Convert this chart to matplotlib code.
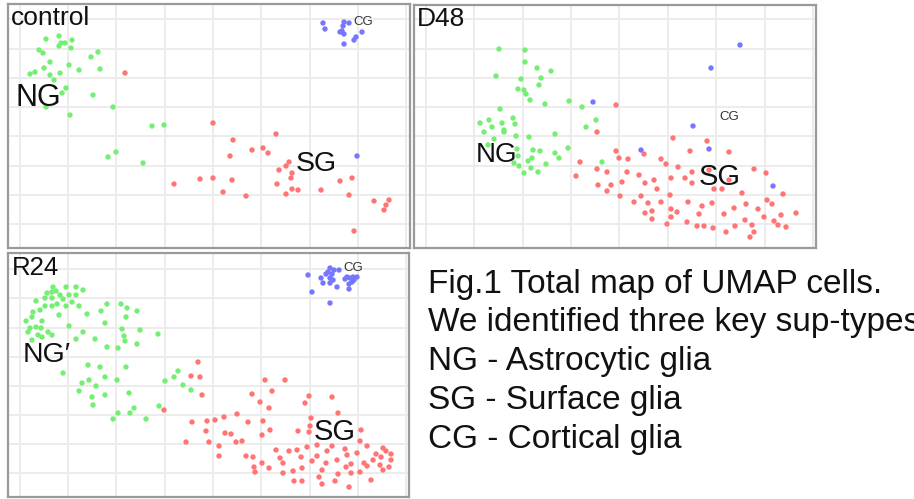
import numpy as np
import matplotlib
matplotlib.use("Agg")
import matplotlib.pyplot as plt

plt.rcParams["font.family"] = ["Liberation Sans", "DejaVu Sans"]

# UMAP embeddings per condition (screen-style units, y grows downwards)
CONTROL_NG = [(46, 39), (59, 36), (72, 40), (61, 43), (65, 43), (59, 46), (39, 50), (43, 53),
              (71, 48), (98, 52), (91, 57), (50, 62), (69, 65), (44, 68), (79, 70), (100, 69),
              (35, 72), (30, 74), (60, 73), (50, 75), (54, 80), (66, 88), (62, 93), (93, 95),
              (46, 107), (113, 107), (70, 115), (152, 126), (164, 125), (108, 157), (116, 152),
              (143, 163)]
CONTROL_SG = [(125, 73), (213, 123), (174, 184), (200, 179), (213, 178), (276, 134), (233, 140),
              (252, 150), (263, 148), (268, 153), (230, 156), (289, 162), (286, 166), (279, 170),
              (292, 173), (232, 180), (291, 178), (277, 184), (340, 181), (352, 178), (223, 192),
              (246, 196), (292, 189), (298, 190), (286, 194), (321, 190), (349, 195), (374, 201),
              (389, 200), (386, 205), (384, 210), (354, 231)]
CONTROL_CG = [(323, 23), (325, 29), (344, 22), (349, 23), (343, 26), (340, 32), (342, 31),
              (344, 34), (362, 32), (356, 37), (354, 40), (344, 44), (357, 156)]

D48_NG = [(499, 49), (525, 50), (525, 62), (537, 68), (551, 71), (496, 76), (521, 79), (541, 78),
          (539, 85), (518, 89), (524, 90), (526, 94), (530, 100), (545, 104), (569, 101),
          (582, 107), (500, 109), (596, 120), (586, 127), (480, 123), (489, 120), (492, 127),
          (502, 123), (513, 118), (515, 124), (504, 130), (484, 132), (504, 132), (516, 136),
          (529, 137), (555, 134), (494, 139), (488, 145), (517, 149), (533, 150), (540, 151),
          (555, 153), (568, 148), (559, 158), (518, 156), (532, 158), (528, 161), (514, 163),
          (519, 166), (546, 164), (531, 168), (524, 173), (538, 172), (602, 162)]
D48_SG = [(616, 105), (597, 132), (616, 151), (619, 158), (628, 159), (580, 162), (597, 169),
          (607, 172), (627, 172), (576, 176), (639, 175), (644, 154), (598, 185), (611, 185),
          (607, 191), (622, 182), (645, 183), (620, 196), (641, 196), (634, 202), (648, 203),
          (645, 213), (652, 219), (673, 138), (707, 141), (690, 151), (729, 152), (661, 159),
          (666, 164), (678, 167), (692, 172), (654, 180), (671, 178), (685, 178), (692, 183),
          (657, 189), (709, 170), (729, 180), (714, 189), (722, 189), (754, 169), (766, 173),
          (742, 193), (670, 195), (783, 194), (767, 200), (772, 204), (661, 202), (688, 202),
          (712, 203), (702, 206), (746, 204), (734, 208), (758, 209), (652, 211), (671, 209),
          (677, 212), (699, 214), (724, 214), (796, 213), (781, 215), (764, 217), (671, 217),
          (745, 220), (774, 221), (687, 222), (667, 224), (697, 226), (704, 226), (713, 228),
          (735, 226), (752, 225), (778, 225), (786, 227), (726, 232), (754, 232), (750, 237)]
D48_CG = [(593, 102), (641, 150), (740, 45), (711, 68), (693, 126), (709, 149), (773, 186)]

R24_NG = [(53, 287), (66, 287), (76, 287), (83, 290), (47, 293), (52, 292), (56, 291), (60, 295),
          (69, 295), (76, 295), (45, 298), (52, 298), (63, 299), (36, 301), (57, 304), (72, 302),
          (45, 306), (52, 306), (66, 306), (79, 306), (40, 310), (107, 304), (121, 304),
          (127, 308), (101, 311), (137, 311), (33, 312), (59, 315), (87, 314), (32, 317),
          (126, 317), (26, 321), (42, 321), (105, 323), (30, 328), (36, 327), (41, 328),
          (69, 326), (122, 329), (140, 330), (28, 332), (48, 332), (83, 332), (38, 335),
          (42, 337), (52, 335), (124, 336), (158, 334), (76, 339), (95, 339), (125, 341),
          (137, 344), (107, 347), (118, 348), (32, 340), (88, 365), (100, 367), (126, 367),
          (63, 373), (82, 383), (89, 380), (105, 377), (117, 380), (79, 391), (96, 386),
          (92, 397), (105, 395), (129, 393), (93, 405), (134, 408), (130, 413), (118, 413),
          (113, 419), (146, 419), (159, 406), (165, 381), (174, 377), (178, 371), (183, 385),
          (191, 390)]
R24_SG = [(198, 362), (191, 376), (200, 377), (202, 395), (164, 410), (192, 422), (207, 421),
          (215, 420), (206, 431), (209, 442), (186, 442), (219, 446), (219, 456), (265, 380),
          (285, 380), (252, 394), (272, 391), (260, 402), (269, 408), (309, 396), (305, 403),
          (332, 397), (338, 413), (237, 414), (224, 417), (248, 422), (263, 421), (311, 418),
          (225, 433), (231, 434), (262, 435), (270, 430), (298, 431), (310, 426), (309, 432),
          (236, 442), (242, 441), (361, 430), (360, 441), (307, 447), (317, 445), (332, 446),
          (276, 450), (289, 451), (297, 450), (327, 451), (345, 449), (367, 446), (357, 453),
          (383, 448), (386, 451), (391, 454), (246, 456), (253, 457), (280, 458), (301, 457),
          (317, 456), (337, 460), (347, 455), (376, 454), (381, 457), (312, 461), (326, 463),
          (373, 460), (391, 460), (262, 463), (283, 463), (346, 467), (351, 464), (364, 463),
          (367, 466), (380, 465), (389, 467), (254, 467), (302, 468), (269, 468), (293, 471),
          (283, 473), (322, 470), (338, 474), (351, 473), (360, 472), (383, 470), (255, 472),
          (319, 477), (294, 481), (302, 481), (335, 481), (371, 480), (322, 484), (349, 487)]
R24_CG = [(308, 275), (321, 278), (326, 274), (330, 268), (334, 270), (339, 270), (328, 272),
          (332, 274), (330, 278), (333, 280), (323, 283), (330, 283), (337, 287), (312, 292),
          (330, 303), (347, 277), (345, 279), (350, 278), (353, 277), (357, 277), (354, 280),
          (349, 284), (349, 289), (352, 282)]

COLORS = {"NG": "#74ef74", "SG": "#ff7474", "CG": "#7676ff"}

panels = [
    # name, axes rect [px], x grid, y grid, clusters, labels (text, x, y, size)
    ("control", (8, 4, 410, 248),
     [20, 68, 116, 165, 213, 261, 310, 358, 406],
     [19, 49, 78, 107, 136, 166, 195, 224],
     {"NG": CONTROL_NG, "SG": CONTROL_SG, "CG": CONTROL_CG},
     [("control", 11, 25, 19, "#111111"), ("NG", 16, 106, 22, "#111111"),
      ("SG", 296, 171, 20.5, "#111111"), ("CG", 353, 25, 9.5, "#333333")]),
    ("D48", (414, 5, 816, 248),
     [426, 474, 523, 571, 619, 668, 716, 765, 813],
     [19, 49, 78, 107, 136, 166, 195, 224],
     {"NG": D48_NG, "SG": D48_SG, "CG": D48_CG},
     [("D48", 417, 26, 19, "#111111"), ("NG", 476, 162, 20, "#111111"),
      ("SG", 699, 185, 21, "#111111"), ("CG", 719, 120, 9.5, "#333333")]),
    ("R24", (8, 253, 409, 497),
     [20, 68, 116, 165, 213, 261, 310, 358, 406],
     [269, 298, 328, 357, 386, 415, 444, 473],
     {"NG": R24_NG, "SG": R24_SG, "CG": R24_CG},
     [("R24", 12, 275, 18.5, "#111111"), ("NG\u2032", 23, 362, 20.5, "#111111"),
      ("SG", 314, 440, 21, "#111111"), ("CG", 343, 271, 9.5, "#333333")]),
]

W, H = 914, 499
fig = plt.figure(figsize=(W / 100, H / 100), dpi=100)

for name, (x0, y0, x1, y1), xg, yg, clusters, labels in panels:
    ax = fig.add_axes([x0 / W, 1 - y1 / H, (x1 - x0) / W, (y1 - y0) / H])
    ax.set_xlim(x0, x1)
    ax.set_ylim(y1, y0)
    ax.set_xticks(xg)
    ax.set_yticks(yg)
    ax.tick_params(length=0, labelbottom=False, labelleft=False)
    ax.grid(True, color="#ebebeb", lw=1.3)
    ax.set_axisbelow(True)
    for sp in ax.spines.values():
        sp.set_color("#9a9a9a")
        sp.set_linewidth(1.6)
    for key in ("NG", "SG", "CG"):
        pts = np.array(clusters[key])
        ax.scatter(pts[:, 0], pts[:, 1], s=15, color=COLORS[key], edgecolors="none", zorder=3)
    for txt, tx, ty, size, col in labels:
        ax.text(tx, ty, txt, fontsize=size, color=col, ha="left", va="baseline", zorder=4)

caption = ["Fig.1 Total map of UMAP cells.",
           "We identified three key sup-types",
           "NG - Astrocytic glia",
           "SG - Surface glia",
           "CG - Cortical glia"]
baselines = [293, 331, 370, 409, 448]
for line, yb in zip(caption, baselines):
    fig.text(428 / W, 1 - yb / H, line, fontsize=24, color="#111111", ha="left", va="baseline")

fig.savefig("out.png", dpi=100)
